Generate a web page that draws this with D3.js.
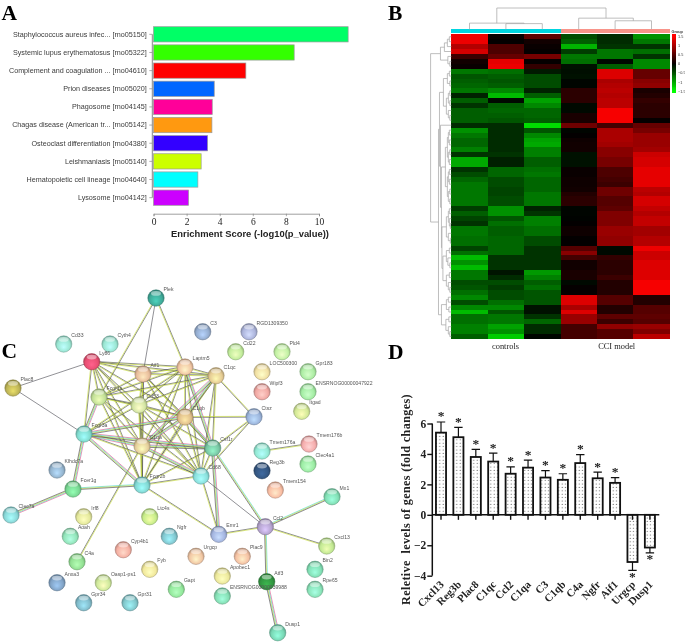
<!DOCTYPE html>
<html><head><meta charset="utf-8">
<script src="https://cdn.jsdelivr.net/npm/d3@7/dist/d3.min.js"></script>
<style>html,body{margin:0;padding:0;background:#fff;overflow:hidden}svg{display:block;filter:blur(.45px)}</style>
</head><body><svg id="c" width="685" height="644"></svg>
<script>
// ---------- Panel A data
const pathways = ["Staphylococcus aureus infec... [rno05150]","Systemic lupus erythematosus [rno05322]","Complement and coagulation ... [rno04610]","Prion diseases [rno05020]","Phagosome [rno04145]","Chagas disease (American tr... [rno05142]","Osteoclast differentiation [rno04380]","Leishmaniasis [rno05140]","Hematopoietic cell lineage [rno04640]","Lysosome [rno04142]"];
const enrichment = [11.76,8.5,5.58,3.67,3.55,3.53,3.27,2.88,2.68,2.12];
const pathwayColors = ["#00ff66","#33ff00","#ff0000","#0066ff","#ff0099","#ff9910","#3300ff","#ccff00","#00ffff","#cc00ff"];
const enrichTicks = [0,2,4,6,8,10];
// ---------- Panel B data
const groups = ["controls","CCI model"];
const samples = ["c1","c2","c3","m1","m2","m3"];
const heatRows = [
[1.4,.05,.55,-.45,-.25,-.85],[1.4,.02,.1,-.55,-.25,-.7],[1.05,.45,.05,-1.05,-.3,-.3],[1.25,.45,.03,-.35,-.7,-.65],[.35,.6,.7,-.7,-.7,-.3],[.1,1.35,.03,-.65,-.05,-.8],[.05,1.4,.3,-.1,-.55,-.8],
[-.7,-.65,-.15,-.08,1.3,.6],[-.5,-.55,-.45,-.1,1.3,.6],[-.55,-.5,-.45,-.03,1,.8],[-.6,-.55,-.45,-.03,1.05,.85],[-.7,-.8,-.2,.25,1.1,.15],[-.2,-1.1,-.55,.25,1.05,.2],[-.55,-.05,-.95,.25,1.1,.3],[-.3,-.55,-.8,-.05,1.1,.25],[-.55,-.6,-.6,-.05,1.45,.25],[-.55,-.55,-.6,.15,1.45,.25],[-.55,-.5,-.55,.15,1.45,.03],
[-.25,-.25,-1.3,.65,.4,.6],[-.85,-.25,-.5,-.03,1,.7],[-.7,-.25,-.8,.02,1,.9],[-.6,-.25,-.95,.08,1,.9],[-.6,-.25,-1,.1,.95,.9],[-.75,-.25,-.75,.1,.8,.95],[-.3,-.3,-.75,-.1,.8,1.2],[-1,-.18,-.55,-.1,.7,1.25],[-1,-.18,-.55,-.1,.7,1.25],[-.3,-.6,-.65,.05,.45,1.35],[-.45,-.6,-.7,.05,.45,1.35],[-.6,-.45,-.6,.08,.4,1.35],[-.7,-.45,-.6,.08,.35,1.35],[-.7,-.4,-.6,.1,.65,1.1],[-.7,-.4,-.7,.2,.65,1.05],[-.7,-.45,-.7,.25,.5,1.25],[-.7,-.45,-.7,.25,.5,1.25],[-.35,-.85,-.2,-.03,.55,1.15],[-.55,-.85,-.3,-.03,.75,1.05],[-.4,-.5,-.75,-.02,.75,1.15],[-.3,-.65,-.75,.02,.75,1.15],[-.7,-.55,-.65,.08,.9,.95],[-.7,-.55,-.65,.08,.9,.95],
[-.65,-.6,-.45,.02,.85,1.05],[-.65,-.6,-.45,.02,.85,1.05],[-.4,-.6,-.3,.5,-.05,1.4],[-.65,-.6,-.3,.8,-.05,1.2],[-1.1,-.3,-.3,.4,.3,1.2],[-.85,-.3,-.3,.1,.25,1.3],[-1.1,-.3,-.3,.1,.25,1.3],[-.7,-.12,-.9,.15,.25,1.3],[-.7,-.25,-.75,.15,.35,1.3],[-.45,-.45,-.55,-.05,.2,1.45],[-.5,-.35,-.65,.03,.2,1.45],[-.65,-.45,-.5,.03,.2,1.45],
[-.8,-.45,-.5,1.3,.5,.2],[-.45,-.65,-.5,1.3,.5,.2],[-.8,-.8,-.1,1,.2,.5],[-1.1,-.5,-.1,1.3,.2,.5],[-.65,-.7,-.3,.9,.55,.55],[-.65,-.7,-.6,.9,.35,.5],[-.75,-.95,-.25,.4,.85,.9],[-.75,-.85,-.25,.4,.5,.75],[-.55,-1.2,-.03,.4,.5,1.1]];
const legendTicks = [1.5,1,.5,0,-.5,-1,-1.5];
// dendrograms: [height, left, right]; a number is a leaf index
const colTreeLeft = [6.1,0,[5.6,1,2]];
const colTreeRight = [11,3,[8.4,4,5]];
const colTreeRootHeight = 21;
const rowTree = [21,
 [11,[7,[4,[2,0,1],2],3],[3.5,4,[1.5,5,6]]],
 [13,
  [12,
   [8,[4,[2,7,8],[1.5,9,10]],[5,[3,[1.5,11,12],[1.5,13,14]],[3,15,[1.5,16,17]]]],
   [11,18,[10,
     [6,[4,[3,[2,19,20],[2,21,22]],[3,[1.5,23,24],[2,25,26]]],[4,[3,[2,27,28],[2,29,30]],[3,[1.5,31,32],[1.5,33,34]]]],
     [9.5,[5,[3,[2,35,36],[2,37,[1,38,39]]],[3,40,[1,41,42]]],
          [8.5,[5,[2,43,44],[3.5,45,[1.5,46,47]]],[5,[2,48,49],[3,50,[1.5,51,52]]]]]]]],
  [10,[5,[3,53,54],[2.5,55,56]],[5.5,[2.5,57,58],[3,59,[1.5,60,61]]]]]];
// ---------- Panel C data (layout units)
const geneNames = ["Plek","Cd33","Cyth4","Ly86","Plac8","Aif1","Laptm5","Fcgr1a","Cd53","C1qb","C1qa","Fcgr3a","Klhdc7a","Fcer1g","Clec7a","Fcgr2b","Cd68","Csf1r","C1qc","C3","RGD1309350","Cd22","Pld4","LOC500300","Gpr183","Wipf3","ENSRNOG00000047922","Itgad","Ctsz","Tmem176a","Tmem176b","Reg3b","Clec4a1","Tmem154","Mx1","Ccl2","Emr1","Cxcl13","Irf8","Ltc4s","Ngfr","Aoah","Cyp4b1","Urgcp","Plac9","C4a","Anxa3","Oasp1-ps1","Fyb","Apobec1","Atf3","ENSRNOG00000039988","Bin2","Rpe65","Gapt","Gpr34","Gpr31","Dusp1"];
const geneX = [156,63.7,110,91.7,13,143,185,99,139,185,142,84,57,73,11,142,201,212.7,216,202.7,249,235.7,282,262,308,262,308,301.7,254,262,309,262,308,275.3,332,265.3,218.7,326.7,83.7,149.7,169.3,70.3,123.3,196,242.3,77,57,103.3,149.7,222.3,266.7,222.3,315,315,176.3,83.7,130,277.7];
const geneY = [298,344,344,361.7,388,374,367,397,405,417,446,434,470,489,515,485,476,448,375.7,331.7,331.7,351.7,351.7,371.7,371.7,391.7,391.7,411.3,416.7,451,444,470.7,464,490,496.7,526.7,534.3,546,516.7,516.7,536.3,536.3,549.7,556.3,556.3,561.7,582.7,582.7,569.3,576,581.7,596,569.3,589.3,589.3,602.7,602.7,632.7];
const geneColors = ["#3a9e8e","#8fd6c4","#8fd6c4","#d84a6a","#b0a850","#d8b090","#e0b898","#b4d08c","#c4d498","#d0b080","#d4c090","#78ccc0","#8aa8c0","#70c888","#80c8c8","#78c8c4","#80d0cc","#70b898","#d4bc88","#8aa0c0","#a0a8cc","#b4dc90","#b4e098","#e0d098","#a0dc98","#e09c98","#98dc98","#c4d88c","#90a8cc","#88d8c4","#e4a0a0","#305078","#90dc98","#e8b098","#78d0a8","#a898c0","#98a8d0","#b4d888","#d4d890","#b8dc80","#78b8c0","#88d4ac","#e4a498","#e0b898","#e4b498","#88d088","#7898b8","#c0d890","#e0d890","#dcd890","#2e8c3c","#7cd0a8","#78d0a8","#80d4ac","#88d890","#78aebc","#78b8bc","#70c8a8"];
const edgesGreen = [["Ly86","Aif1"],["Ly86","Laptm5"],["Ly86","Fcgr1a"],["Ly86","Cd53"],["Ly86","C1qb"],["Ly86","C1qa"],["Ly86","Fcgr3a"],["Ly86","Cd68"],["Ly86","C1qc"],["Ly86","Fcgr2b"],
["Aif1","Laptm5"],["Aif1","C1qc"],["Aif1","Fcgr1a"],["Aif1","Cd53"],["Aif1","C1qa"],["Aif1","Fcgr2b"],["Aif1","Cd68"],["Aif1","Csf1r"],["Aif1","C1qb"],
["Laptm5","C1qc"],["Laptm5","Cd53"],["Laptm5","C1qb"],["Laptm5","C1qa"],["Laptm5","Cd68"],["Laptm5","Fcgr2b"],["Laptm5","Fcgr1a"],["Laptm5","Fcgr3a"],
["Fcgr1a","Cd53"],["Fcgr1a","C1qb"],["Fcgr1a","C1qa"],["Fcgr1a","Fcgr2b"],["Fcgr1a","Cd68"],["Fcgr1a","C1qc"],
["Cd53","C1qb"],["Cd53","C1qa"],["Cd53","Fcgr2b"],["Cd53","Cd68"],["Cd53","Csf1r"],["Cd53","C1qc"],["Cd53","Fcgr3a"],
["C1qb","Cd68"],["C1qb","Fcgr2b"],["C1qa","Fcgr2b"],["Fcgr3a","Cd68"],["Fcgr2b","Cd68"],["Fcgr2b","Csf1r"],["Fcgr2b","C1qc"],["Cd68","Csf1r"],["Cd68","C1qc"],["Csf1r","C1qc"],
["Plek","Laptm5"],["Plek","Fcgr1a"],["Ctsz","C1qc"],["Ctsz","C1qb"],["Ctsz","Csf1r"],["Ctsz","Cd68"],["C4a","C1qa"],["Cd68","Emr1"],["Fcgr2b","Emr1"],["Emr1","Ccl2"],["Ccl2","Cxcl13"],["Tmem176a","Tmem176b"]];
const edgesMulti = [["Laptm5","Csf1r"],["Fcgr1a","Fcgr3a"],["C1qb","C1qc"],["C1qb","C1qa"],["C1qb","Csf1r"],["C1qa","C1qc"],["C1qa","Csf1r"],["C1qa","Cd68"],["C1qa","Fcgr3a"],["Fcgr3a","Fcgr2b"],["Fcgr3a","Csf1r"],["Fcgr3a","Fcer1g"],["Fcgr3a","C1qb"],["Csf1r","Emr1"],["Atf3","Dusp1"],["Fcer1g","Clec7a"]];
const edgesCyan = [["Fcer1g","Fcgr2b"],["Csf1r","Ccl2"],["Ccl2","Mx1"],["Ccl2","Atf3"]];
const edgesDark = [["Plek","Aif1"],["Plac8","Ly86"],["Plac8","Fcgr3a"],["Cd68","Ccl2"]];
// ---------- Panel D data
const qpcrGenes = ["Cxcl13","Reg3b","Plac8","C1qc","Ccl2","C1qa","C3","C1qb","C4a","Ngfr","Aif1","Urgcp","Dusp1"];
const foldChange = [5.4,5.1,3.8,3.5,2.7,3.1,2.45,2.3,3.4,2.4,2.1,-3.1,-2.15];
const errorEnd = [6.1,5.75,4.3,4.05,3.15,3.6,2.9,2.7,3.95,2.8,2.45,-3.65,-2.5];
const foldTicks = [6,4,2,0,-2,-4];

const svg = d3.select("#c"), defs = svg.append("defs");
const SANS = "'Liberation Sans',Arial,sans-serif", SERIF = "'Liberation Serif','Times New Roman',serif";
const letter = (t,x,y)=>svg.append("text").attr("x",x).attr("y",y).attr("font-family",SERIF).attr("font-weight","bold").attr("font-size",21.5).attr("fill","#000").text(t);
letter("A",1.5,19.5);letter("B",388,19.5);letter("C",1.5,358);letter("D",388,359);

// ---------- Panel A
{
 const x = d3.scaleLinear().domain([0,10]).range([153.5,319]);
 const y = d3.scaleBand().domain(pathways).range([23.8,208.2]).padding(.16);
 const g = svg.append("g");
 g.selectAll("rect").data(pathways).join("rect")
  .attr("x",x(0)).attr("y",d=>y(d)).attr("height",y.bandwidth())
  .attr("width",(d,i)=>x(enrichment[i])-x(0))
  .attr("fill",(d,i)=>pathwayColors[i]).attr("stroke","#9a9a9a").attr("stroke-width",.7);
 const ax = svg.append("g").attr("transform","translate(152.3,0)")
  .call(d3.axisLeft(y).tickSize(3).tickPadding(2.5));
 ax.select(".domain").attr("stroke","#888").attr("stroke-width",1).attr("d",`M0,${y(pathways[0])+y.bandwidth()/2}V${y(pathways[9])+y.bandwidth()/2}`);
 ax.selectAll("line").attr("stroke","#888").attr("stroke-width",.7);
 ax.selectAll("text").attr("font-family",SANS).attr("font-size",7.2).attr("fill","#3a3a3a");
 const bx = svg.append("g").attr("transform","translate(0,213.7)")
  .call(d3.axisBottom(x).tickValues(enrichTicks).tickSize(2.5).tickPadding(2.5));
 bx.select(".domain").attr("stroke","#888").attr("stroke-width",.8);
 bx.selectAll("line").attr("stroke","#888").attr("stroke-width",.7);
 bx.selectAll("text").attr("font-family",SERIF).attr("font-size",9.5).attr("fill","#222");
 svg.append("text").attr("x",250).attr("y",236.6).attr("text-anchor","middle").attr("font-family",SANS).attr("font-weight","bold").attr("font-size",9.4).attr("fill","#222").text("Enrichment Score (-log10(p_value))");
}

// ---------- Panel B
{
 const x = d3.scaleBand().domain(d3.range(samples.length)).range([451.3,669.7]);
 const y = d3.scaleBand().domain(d3.range(heatRows.length)).range([34.3,339]);
 const color = d3.scaleLinear().domain([-1.5,0,1.5]).range(["#00ff00","#000000","#ff0000"]);
 const g = svg.append("g").attr("shape-rendering","crispEdges");
 g.selectAll("g").data(heatRows).join("g").selectAll("rect").data((r,i)=>r.map((v,j)=>({v,i,j}))).join("rect")
  .attr("x",d=>x(d.j)).attr("y",d=>y(d.i)).attr("width",x.bandwidth()+.3).attr("height",y.bandwidth()+.3).attr("fill",d=>color(d.v));
 const groupOf = j=>j<3?"#00d5e0":"#f8948a";
 g.selectAll(".s").data(d3.range(samples.length)).join("rect").attr("class","s")
  .attr("x",d=>x(d)).attr("y",29.3).attr("width",x.bandwidth()+.3).attr("height",4).attr("fill",groupOf);
 const dg = svg.append("g").attr("fill","none").attr("stroke","#a8a8a8").attr("stroke-width",.75);
 const colH = d3.scaleLinear().domain([0,21]).range([29.3,8]);
 const rowH = d3.scaleLinear().domain([0,21]).range([451.3,430.6]);
 function walk(n,pos,emit){
   if(typeof n==="number") return {p:pos(n),h:0};
   const a=walk(n[1],pos,emit), b=walk(n[2],pos,emit);
   emit(a,b,n[0]);
   return {p:(a.p+b.p)/2,h:n[0]};
 }
 const colPos = i=>x(i)+x.bandwidth()/2, rowPos = i=>y(i)+y.bandwidth()/2;
 const emitCol=(a,b,h)=>dg.append("path").attr("d",`M${a.p},${colH(a.h)}V${colH(h)}H${b.p}V${colH(b.h)}`);
 const emitRow=(a,b,h)=>dg.append("path").attr("d",`M${rowH(a.h)},${a.p}H${rowH(h)}V${b.p}H${rowH(b.h)}`);
 walk([colTreeRootHeight,colTreeLeft,colTreeRight],colPos,emitCol);
 walk(rowTree,rowPos,emitRow);
 svg.selectAll(".gl").data(groups).join("text").attr("class","gl")
  .attr("x",(d,i)=>[505.5,616.7][i]).attr("y",349).attr("text-anchor","middle").attr("font-family",SERIF).attr("font-size",8.4).attr("fill","#222").text(d=>d);
 const ky = d3.scaleLinear().domain([1.6,-1.6]).range([34,93]);
 const keySteps = d3.range(1.6,-1.6,-0.05);
 svg.append("g").attr("shape-rendering","crispEdges").selectAll("rect").data(keySteps).join("rect")
  .attr("x",671.7).attr("width",4.3).attr("y",d=>ky(d)).attr("height",Math.abs(ky(0)-ky(.05))+.3).attr("fill",d=>color(Math.max(-1.5,Math.min(1.5,d))));
 const ka = svg.append("g").attr("transform","translate(676,0)").call(d3.axisRight(ky).tickValues(legendTicks).tickSize(0).tickPadding(2).tickFormat(d3.format("")));
 ka.select(".domain").remove();
 ka.selectAll("text").attr("font-family",SANS).attr("font-size",3.8).attr("fill","#333");
 svg.append("text").attr("x",671.5).attr("y",32.5).attr("font-family",SANS).attr("font-weight","bold").attr("font-size",3.8).attr("fill","#333").text("Group");
}

// ---------- Panel C
{
 const x = d3.scaleLinear().domain([0,345]).range([0,345]);
 const y = d3.scaleLinear().domain([280,644]).range([280,644]);
 const idx = new Map(geneNames.map((n,i)=>[n,i]));
 const strands = {
  g:["#4d4d55","#c8dc3c"], m:["#e4558c","#4fd8cc","#c8dc3c","#4d4d55"], c:["#4fd8cc","#c8dc3c","#4d4d55"], d:["#55555c"]};
 const allEdges = [...edgesGreen.map(e=>[...e,"g"]),...edgesMulti.map(e=>[...e,"m"]),...edgesCyan.map(e=>[...e,"c"]),...edgesDark.map(e=>[...e,"d"])];
 const eg = svg.append("g").attr("fill","none").attr("stroke-width",.65);
 allEdges.forEach(([a,b,t])=>{
  const i=idx.get(a),j=idx.get(b);
  const x1=x(geneX[i]),y1=y(geneY[i]),x2=x(geneX[j]),y2=y(geneY[j]);
  const L=Math.hypot(x2-x1,y2-y1),nx=-(y2-y1)/L,ny=(x2-x1)/L;
  const cols=strands[t];
  cols.forEach((c,k)=>{
   const o=(k-(cols.length-1)/2)*.8;
   eg.append("line").attr("x1",x1+nx*o).attr("y1",y1+ny*o).attr("x2",x2+nx*o).attr("y2",y2+ny*o).attr("stroke",c);
  });
 });
 geneNames.forEach((n,i)=>{
  const c=d3.color(geneColors[i]);
  const gr=defs.append("radialGradient").attr("id","n"+i).attr("cx","50%").attr("cy","55%").attr("r","55%").attr("fx","50%").attr("fy","70%");
  gr.append("stop").attr("offset","0%").attr("stop-color",c.brighter(.8));
  gr.append("stop").attr("offset","70%").attr("stop-color",c.brighter(.2));
  gr.append("stop").attr("offset","100%").attr("stop-color",c.darker(.7));
 });
 const ng = svg.append("g").selectAll("g").data(geneNames).join("g").attr("transform",(d,i)=>`translate(${x(geneX[i])},${y(geneY[i])})`);
 ng.append("circle").attr("r",8.2).attr("fill",(d,i)=>`url(#n${i})`).attr("stroke",(d,i)=>d3.color(geneColors[i]).darker(.9)).attr("stroke-width",.5);
 ng.append("ellipse").attr("cy",-4.6).attr("rx",5).attr("ry",2.4).attr("fill","#fff").attr("opacity",.45);
 svg.append("g").selectAll("text").data(geneNames).join("text")
  .attr("x",(d,i)=>x(geneX[i])+7.6).attr("y",(d,i)=>y(geneY[i])-7)
  .attr("font-family",SANS).attr("font-size",5.1).attr("fill","#555").text(d=>d);
}

// ---------- Panel D
{
 const x = d3.scaleBand().domain(qpcrGenes).range([432.3,658.6]).paddingInner(.42).paddingOuter(.21);
 const y = d3.scaleLinear().domain([-4,6]).range([575.7,423.5]);
 const p = defs.append("pattern").attr("id","dots").attr("width",3.4).attr("height",3.4).attr("patternUnits","userSpaceOnUse");
 p.append("rect").attr("width",3.4).attr("height",3.4).attr("fill","#fff");
 p.append("circle").attr("cx",1.2).attr("cy",1.2).attr("r",.6).attr("fill","#666");
 const g = svg.append("g");
 const cx = d=>x(d)+x.bandwidth()/2;
 g.selectAll(".eb").data(qpcrGenes).join("path").attr("class","eb").attr("fill","none").attr("stroke","#111").attr("stroke-width",1.2)
  .attr("d",(d,i)=>`M${cx(d)},${y(foldChange[i])}V${y(errorEnd[i])}M${cx(d)-4.2},${y(errorEnd[i])}H${cx(d)+4.2}`);
 g.selectAll(".bar").data(qpcrGenes).join("rect").attr("class","bar")
  .attr("x",d=>x(d)).attr("width",x.bandwidth())
  .attr("y",(d,i)=>Math.min(y(foldChange[i]),y(0))).attr("height",(d,i)=>Math.abs(y(foldChange[i])-y(0)))
  .attr("fill","url(#dots)").attr("stroke","#111").attr("stroke-width",1.8);
 g.selectAll(".st").data(qpcrGenes).join("text").attr("class","st")
  .attr("x",cx).attr("y",(d,i)=>foldChange[i]>0?y(errorEnd[i])-1.5:y(errorEnd[i])+10.5)
  .attr("text-anchor","middle").attr("font-family",SERIF).attr("font-weight","bold").attr("font-size",13.5).attr("fill","#222").text("*");
 const ya = svg.append("g").attr("transform","translate(432.3,0)").call(d3.axisLeft(y).tickValues(foldTicks).tickSize(5).tickPadding(1));
 ya.select(".domain").attr("stroke","#111").attr("stroke-width",1.5).attr("d",`M0,${y(6)}V${y(-4)}`);
 ya.selectAll("line").attr("stroke","#111").attr("stroke-width",1.4);
 ya.selectAll("text").attr("font-family",SERIF).attr("font-weight","bold").attr("font-size",11.5).attr("fill","#222");
 const xa = svg.append("g").attr("transform",`translate(0,${y(0)})`).call(d3.axisBottom(x).tickSize(5).tickFormat(""));
 xa.select(".domain").attr("stroke","#111").attr("stroke-width",1.5).attr("d",`M432.3,0H659.3`);
 xa.selectAll("line").attr("stroke","#111").attr("stroke-width",1.4);
 svg.selectAll(".xl").data(qpcrGenes).join("text").attr("class","xl")
  .attr("transform",d=>`translate(${cx(d)+3.5},${y(-4)+9.5}) rotate(-45)`)
  .attr("text-anchor","end").attr("font-family",SERIF).attr("font-weight","bold").attr("font-size",10.8).attr("fill","#222").text(d=>d);
 svg.append("text").attr("transform","translate(409.5,499.5) rotate(-90)").attr("text-anchor","middle").attr("font-family",SERIF).attr("font-weight","bold").attr("font-size",12.2).attr("letter-spacing",.35).attr("fill","#222").attr("xml:space","preserve").text("Reletive  levels of genes (fold changes)");
}
</script></body></html>
